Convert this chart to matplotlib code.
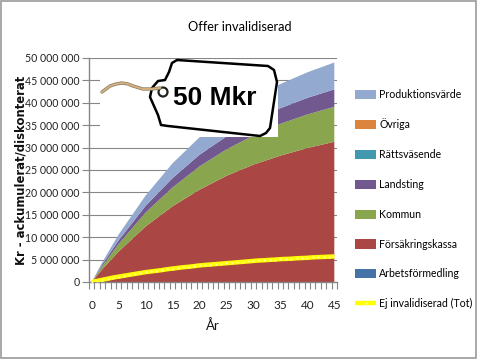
import matplotlib
matplotlib.use('Agg')
import matplotlib.pyplot as plt
from matplotlib.patches import Polygon, Rectangle, Circle
from matplotlib.ticker import FuncFormatter, MultipleLocator

plt.rcParams['font.family'] = ['Lato', 'Liberation Sans', 'DejaVu Sans']

years = [0, 2, 5, 10, 15, 20, 25, 30, 35, 40, 45]

# stacked amounts, Mkr
arbetsformedling = [0, 0, 0, 0, 0, 0, 0, 0, 0, 0, 0]
forsakringskassa = [0, 2.9, 6.8, 12.4, 16.9, 20.6, 23.7, 26.2, 28.2, 29.9, 31.3]
kommun = [0, 0.7, 1.7, 3.1, 4.2, 5.2, 5.9, 6.5, 7.1, 7.5, 7.8]
landsting = [0, 0.4, 0.8, 1.5, 2.1, 2.6, 2.9, 3.2, 3.5, 3.7, 3.9]
rattsvasende = [0, 0, 0, 0, 0, 0, 0, 0, 0, 0, 0]
ovriga = [0, 0, 0, 0, 0, 0, 0, 0, 0, 0, 0]
produktion = [0, 0.5, 1.3, 2.3, 3.3, 3.9, 4.6, 5.1, 5.4, 5.7, 6.0]

line_years = list(range(46))
ej_invalid = [0, 0.25, 0.5, 0.75, 1.0, 1.2, 1.4, 1.6, 1.8, 2.0, 2.2, 2.35, 2.5, 2.65, 2.85,
              3.0, 3.15, 3.3, 3.4, 3.55, 3.7, 3.8, 3.9, 4.0, 4.1, 4.2, 4.3, 4.4, 4.5, 4.6,
              4.7, 4.8, 4.85, 4.95, 5.0, 5.1, 5.15, 5.2, 5.3, 5.35, 5.4, 5.5, 5.55, 5.6, 5.65, 5.7]

labels = ['Arbetsförmedling', 'Försäkringskassa', 'Kommun', 'Landsting', 'Rättsväsende', 'Övriga', 'Produktionsvärde']
colors = ['#4572A7', '#AA4643', '#89A54E', '#71588F', '#4198AF', '#DB843D', '#93A9CF']
x_labels = [0, 5, 10, 15, 20, 25, 30, 35, 40, 45]

W, H = 480, 360
fig = plt.figure(figsize=(W / 100, H / 100), dpi=100)
ax = fig.add_axes([89 / W, 1 - 282 / H, 248 / W, 224 / H])

series = [arbetsformedling, forsakringskassa, kommun, landsting, rattsvasende, ovriga, produktion]
series_m = [[v * 1e6 for v in s] for s in series]
stacks = ax.stackplot(years, series_m, colors=colors, labels=labels, zorder=2, lw=0)
line, = ax.plot(line_years, [v * 1e6 for v in ej_invalid], color='#FFFF00', lw=3.2, zorder=3,
                marker='s', ms=1.3, mfc='#FFFFA0', mec='none', solid_capstyle='butt',
                label='Ej invalidiserad (Tot)')

ax.set_xlim(-0.5, 45.5)
ax.set_ylim(0, 50e6)
ax.yaxis.set_major_locator(MultipleLocator(5e6))
ax.yaxis.set_major_formatter(FuncFormatter(lambda v, p: f'{int(v):,}'.replace(',', ' ')))
ax.set_xticks(x_labels)
ax.set_xticks([i - 0.5 for i in range(47)], minor=True)
ax.tick_params(axis='x', which='major', length=0, labelsize=8.5, pad=13, colors='#222222')
ax.tick_params(axis='x', which='minor', length=5, width=0.8, color='#868686')
ax.tick_params(axis='y', length=5, width=0.8, color='#868686', labelsize=7.6, labelcolor='#222222', pad=2)
ax.grid(axis='y', color='#868686', lw=0.8, zorder=0)
ax.set_axisbelow(True)
for s in ['top', 'right']:
    ax.spines[s].set_visible(False)
for s in ['left', 'bottom']:
    ax.spines[s].set_color('#868686')
    ax.spines[s].set_linewidth(1)

ax.set_xlabel('År', fontsize=9.5, labelpad=6, color='#111111')
fig.text(21 / W, 1 - 170.5 / H, 'Kr - ackumulerat/diskonterat', rotation=90, ha='center', va='center',
         fontsize=8.4, fontweight='bold', family='DejaVu Sans', color='#111111')
fig.text(240 / W, 1 - 27 / H, 'Offer invalidiserad', ha='center', va='center', fontsize=9.2, color='black')

handles = stacks[::-1] + [line]
legend_labels = labels[::-1] + ['Ej invalidiserad (Tot)']
fig.legend(handles, legend_labels, loc='center left', bbox_to_anchor=(355 / W, 1 - 199 / H),
           frameon=False, fontsize=7.6, labelspacing=1.78, handlelength=2.0, handleheight=0.95,
           handletextpad=0.3, borderpad=0, borderaxespad=0)

# overlay in pixels for the picture frame and the price tag
over = fig.add_axes([0, 0, 1, 1], zorder=10)
over.set_xlim(0, W)
over.set_ylim(H, 0)
over.axis('off')
over.patch.set_alpha(0)
over.add_patch(Rectangle((0.5, 0.5), 475, 357.5, fill=False, ec='#9A9A9A', lw=1.2))
over.add_patch(Rectangle((100, 60), 178, 77, fc='white', ec='none'))
tag = [(177, 60), (268, 66), (274, 70), (277, 82), (270, 128), (266, 133), (260, 136), (168, 126), (161, 125),
       (158, 115), (150, 97), (152, 88), (158, 81), (165, 80), (169, 72), (172, 63)]
over.add_patch(Polygon(tag, closed=True, fc='white', ec='black', lw=1.8, joinstyle='round'))
string_x = [102, 106, 110, 116, 122, 128, 133, 143, 152, 160]
string_y = [92, 89, 86, 84, 83, 84, 86, 89, 89, 88]
over.plot(string_x, string_y, color='#8A7A60', lw=2.4, solid_capstyle='round')
over.plot(string_x, string_y, color='#D2B080', lw=1.4, solid_capstyle='round')
over.add_patch(Circle((163, 92), 4.5, fc='white', ec='#222222', lw=1.6))
over.text(215, 98, '50 Mkr', ha='center', va='center', fontsize=19, fontweight='bold',
          family='Liberation Sans', color='black')

fig.savefig('out.png', dpi=100)
